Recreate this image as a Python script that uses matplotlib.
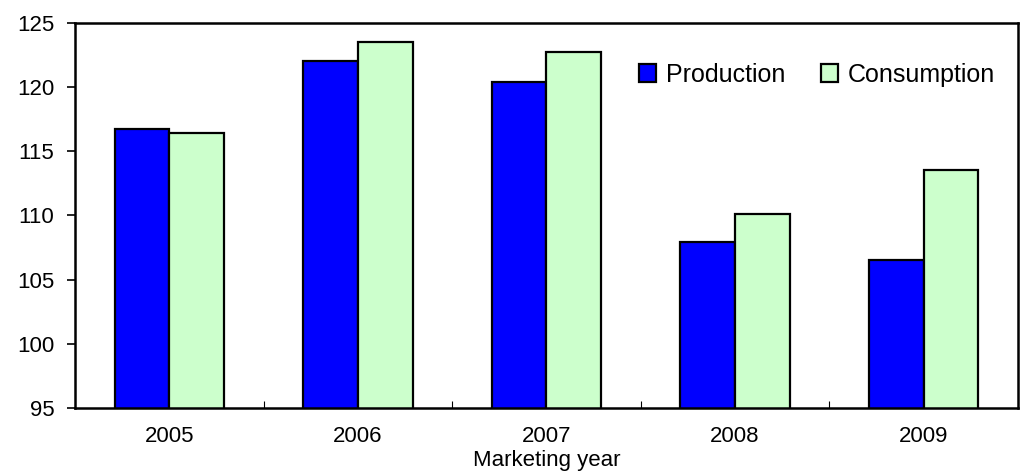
import matplotlib.pyplot as plt
import numpy as np

plt.rcParams['font.family'] = ['Liberation Sans', 'DejaVu Sans']

years = ['2005', '2006', '2007', '2008', '2009']
production = [116.7, 122.0, 120.4, 107.9, 106.5]
consumption = [116.4, 123.5, 122.7, 110.1, 113.5]

fig = plt.figure(figsize=(10.21, 4.75), dpi=100)
ax = fig.add_axes([0.0735, 0.141, 0.9235, 0.811])

x = np.arange(len(years))
w = 0.29
ax.bar(x - w/2, production, w, bottom=0, color='#0000ff', edgecolor='black',
       linewidth=1.6, label='Production')
ax.bar(x + w/2, consumption, w, bottom=0, color='#ccffcc', edgecolor='black',
       linewidth=1.6, label='Consumption')

ax.set_xlim(-0.5, len(years) - 0.5)
ax.set_ylim(95, 125)
ax.set_yticks(np.arange(95, 126, 5))

# category labels centred, tick marks between the groups
ax.set_xticks(x)
ax.set_xticklabels(years)
ax.tick_params(axis='x', which='major', length=0, pad=13, labelsize=16)
ax.set_xticks(np.arange(0.5, len(years) - 1, 1), minor=True)
ax.tick_params(axis='x', which='minor', direction='in', length=5, width=0.8)
ax.tick_params(axis='y', direction='out', length=6, width=1.2, labelsize=16, pad=9)

for s in ax.spines.values():
    s.set_linewidth(1.8)

ax.set_xlabel('Marketing year', fontsize=16, labelpad=2)

ax.legend(loc='upper right', bbox_to_anchor=(1.0, 0.955), ncol=2, frameon=False,
          fontsize=18, handlelength=0.7, handleheight=0.7, handletextpad=0.4,
          columnspacing=1.4)

plt.savefig('out.png', dpi=100)
